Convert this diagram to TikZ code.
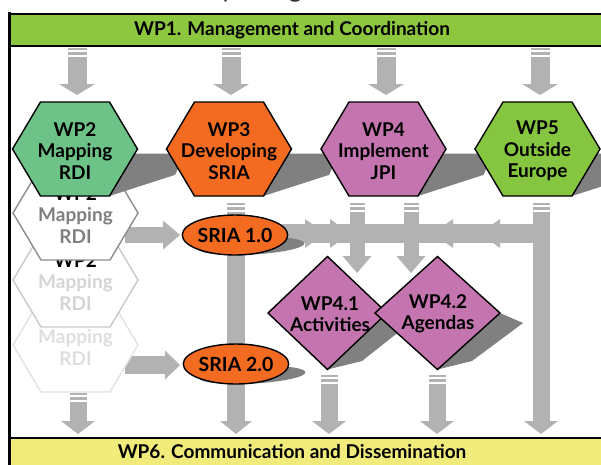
\documentclass[tikz,border=0pt]{standalone}
\usepackage{fontspec}
\setmainfont{Lato}
\usetikzlibrary{calc,shapes.geometric}
\definecolor{agray}{HTML}{B2B2B2}
\definecolor{shd}{HTML}{808080}
\definecolor{wpgreen}{HTML}{6DC387}
\definecolor{wporange}{HTML}{F36B21}
\definecolor{wppink}{HTML}{C475B0}
\definecolor{wplime}{HTML}{86C540}
\definecolor{barg}{HTML}{8DC63F}
\definecolor{bary}{HTML}{F0EB7A}
\definecolor{ghA}{HTML}{8C8C8C}
\definecolor{ghAt}{HTML}{7F7F7F}
\definecolor{ghB}{HTML}{C8C8C8}
\definecolor{ghBt}{HTML}{D4D4D4}
\definecolor{ghC}{HTML}{E2E2E2}
\definecolor{ghCt}{HTML}{DEDEDE}
\definecolor{tgray}{HTML}{333333}
\pgfdeclarelayer{arr}
\pgfdeclarelayer{ghost}
\pgfdeclarelayer{shadow}
\pgfsetlayers{arr,ghost,shadow,main}
\newcommand\hexpoly{(-62.5,0) -- (-34.5,-47) -- (34.5,-47) -- (62.5,0) -- (34.5,47) -- (-34.5,47) -- cycle}
\newcommand\lblfont{\fontsize{19}{21.5}\selectfont\bfseries}
\newcommand\barfont{\fontsize{19}{21}\selectfont\bfseries}
\newcommand\sriafont{\fontsize{19.5}{22}\selectfont\bfseries}
% block arrow: [opts]{start}{end}{shaft width}{half head width}{head length}
\newcommand\blk[6][]{%
  \draw[agray, line width=#4, shorten >=#6-0.5pt, #1] (#2) -- (#3);
  \fill[agray] (#3) -- ($(#3)!#6!(#2)!#5!90:(#3)$) -- ($(#3)!#6!(#2)!#5!-90:(#3)$) -- cycle;
}
\begin{document}
\begin{tikzpicture}[x=1pt,y=-1pt,
  lbl/.style={inner sep=0pt, align=center, font=\lblfont},
  shp/.style={draw=black, line width=1.4pt, line join=miter},
  stripes/.style={dash pattern=on 2pt off 2pt on 2.5pt off 2pt on 3000pt}]
\useasboundingbox (0,0) rectangle (601,464);
\clip (0,0) rectangle (601,464);

% bars and frame
\filldraw[fill=barg, line width=2pt] (9.5,14) rectangle (650,46);
\filldraw[fill=bary, line width=2pt] (9.5,437.5) rectangle (650,490);
\draw[line width=2.5pt] (9.5,12) -- (9.5,470);
\node[font=\barfont, inner sep=0pt] (wp1) at (292,30.5) {WP1. Management and Coordination};
\node[font=\barfont, inner sep=0pt] (wp6) at (292,452) {WP6. Communication and Dissemination};
\node[anchor=base west, inner sep=0pt, font=\fontsize{26}{30}\selectfont, text=tgray] (title) at (12,-2.5) {Interaction of WP packages:};

% main hexagons
\filldraw[shp, fill=wpgreen, shift={(75,149)}] \hexpoly;
\node[lbl, minimum width=125pt, minimum height=94pt] (wp2) at (75,151) {WP2\\Mapping\\RDI};
\filldraw[shp, fill=wporange, shift={(229,149)}] \hexpoly;
\node[lbl, minimum width=125pt, minimum height=94pt] (wp3) at (229,151) {WP3\\Developing\\SRIA};
\filldraw[shp, fill=wppink, shift={(383.5,149)}] \hexpoly;
\node[lbl, minimum width=125pt, minimum height=94pt] (wp4) at (383.5,151) {WP4\\Implement\\JPI};
\filldraw[shp, fill=wplime, shift={(537.5,149)}] \hexpoly;
\node[lbl, minimum width=125pt, minimum height=94pt] (wp5) at (537.5,151) {WP5\\Outside\\Europe};

% ellipses
\node[ellipse, shp, fill=wporange, minimum width=102pt, minimum height=40pt, inner sep=0pt, font=\sriafont] (sria1) at (235,235) {SRIA 1.0};
\node[ellipse, shp, fill=wporange, minimum width=102pt, minimum height=40pt, inner sep=0pt, font=\sriafont] (sria2) at (236,364) {SRIA 2.0};

% diamonds
\filldraw[shp, fill=wppink] (268,313) -- (327.5,256.5) -- (387,313) -- (327.5,369.5) -- cycle;
\node[lbl] (wp41) at (330,314) {WP4.1\\Activities};
\filldraw[shp, fill=wppink] (375,313) -- (437.5,256.5) -- (500,313) -- (437.5,369.5) -- cycle;
\node[lbl] (wp42) at (438,314) {WP4.2\\Agendas};

% shadows
\begin{pgfonlayer}{shadow}
\begin{scope}[cm={1,0,0.8,0.45,(156.8pt,-107.8pt)}]
  \foreach \cx in {75,229,383.5,537.5} {\fill[shd, shift={(\cx,149)}] \hexpoly;}
\end{scope}
\begin{scope}[cm={1,0,0.8,0.45,(204pt,-140.25pt)}]
  \fill[shd] (235,235) ellipse [x radius=51pt, y radius=20pt];
\end{scope}
\begin{scope}[cm={1,0,0.8,0.45,(307.2pt,-211.2pt)}]
  \fill[shd] (236,364) ellipse [x radius=51pt, y radius=20pt];
\end{scope}
\fill[shd] (327.5,369.5) -- (362,361) -- (410,323) -- (387,313) -- cycle;
\fill[shd] (437.5,369.5) -- (472,361) -- (523,323) -- (500,313) -- cycle;
\end{pgfonlayer}

% ghost hexagons
\begin{pgfonlayer}{ghost}
\filldraw[fill=white, draw=ghC, line width=1.4pt, shift={(75.5,345)}] \hexpoly;
\node[lbl, text=ghCt] (g3) at (75.5,337) {\textcolor{black}{WP2}\\Mapping\\RDI};
\filldraw[fill=white, draw=ghB, line width=1.4pt, shift={(75.5,280)}] \hexpoly;
\node[lbl, text=ghBt] (g2) at (75.5,282) {\textcolor{black}{WP2}\\Mapping\\RDI};
\filldraw[fill=white, draw=ghA, line width=1.4pt, shift={(75.5,213)}] \hexpoly;
\node[lbl, text=ghAt] (g1) at (75.5,215) {\textcolor{black}{WP2}\\Mapping\\RDI};
\end{pgfonlayer}

% arrows
\begin{pgfonlayer}{arr}
\coordinate (t2a) at (77,48);  \coordinate (t2b) at (77,95);
\coordinate (t3a) at (231,48); \coordinate (t3b) at (231,95);
\coordinate (t4a) at (386,48); \coordinate (t4b) at (386,95);
\coordinate (t5a) at (540,48); \coordinate (t5b) at (540,95);
\blk[stripes]{t2a}{t2b}{19pt}{18pt}{11pt}
\blk[stripes]{t3a}{t3b}{19pt}{18pt}{11pt}
\blk[stripes]{t4a}{t4b}{19pt}{18pt}{11pt}
\blk[stripes]{t5a}{t5b}{19pt}{18pt}{11pt}
% WP3 column
\coordinate (c3a) at (236,203); \coordinate (c3b) at (236,434);
\blk[stripes]{c3a}{c3b}{18pt}{16pt}{13pt}
% WP4 to WP4.1 / WP4.2
\coordinate (c41a) at (357,203); \coordinate (c41b) at (357,273);
\coordinate (c42a) at (411,203); \coordinate (c42b) at (411,273);
\blk[stripes]{c41a}{c41b}{15pt}{14.5pt}{17pt}
\blk[stripes]{c42a}{c42b}{15pt}{14.5pt}{17pt}
% WP5 column
\coordinate (c5a) at (541,203); \coordinate (c5b) at (541,434);
\blk[stripes]{c5a}{c5b}{17pt}{17pt}{13pt}
% horizontal connector from SRIA 1.0
\coordinate (hj) at (550,233.5);
\draw[agray, line width=19pt] (sria1.center |- hj) -- (hj);
\fill[agray] (305,219) -- (325,233.5) -- (305,248) -- cycle;
\fill[agray] (330,219) -- (350,233.5) -- (330,248) -- cycle;
\fill[agray] (453,219) -- (433,233.5) -- (453,248) -- cycle;
\fill[agray] (500,219) -- (480,233.5) -- (500,248) -- cycle;
% ghosts to SRIA
\coordinate (h1a) at (125,235); \coordinate (h1b) at (180,235);
\blk{h1a}{h1b}{16pt}{14.5pt}{17pt}
\coordinate (h2a) at (125,365); \coordinate (h2b) at (180,365);
\blk{h2a}{h2b}{18pt}{14.5pt}{15pt}
% down to WP6
\coordinate (d1a) at (78,393); \coordinate (d1b) at (78,434);
\blk[stripes]{d1a}{d1b}{17pt}{17pt}{13pt}
\coordinate (d3a) at (329,375); \coordinate (d3b) at (329,434);
\blk[stripes]{d3a}{d3b}{17pt}{17pt}{13pt}
\coordinate (d4a) at (437,375); \coordinate (d4b) at (437,434);
\blk[stripes]{d4a}{d4b}{17pt}{17pt}{13pt}
\end{pgfonlayer}
\end{tikzpicture}
\end{document}
